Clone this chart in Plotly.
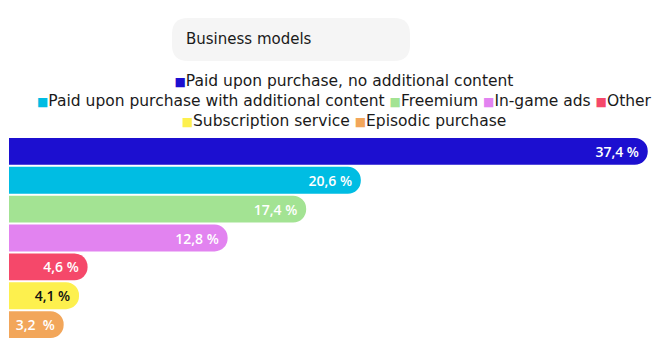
import plotly.graph_objects as go

categories = [
    "Paid upon purchase, no additional content",
    "Paid upon purchase with additional content",
    "Freemium",
    "In-game ads",
    "Other",
    "Subscription service",
    "Episodic purchase",
]
values = [37.4, 20.6, 17.4, 12.8, 4.6, 4.1, 3.2]
labels = ["37,4 %", "20,6 %", "17,4 %", "12,8 %", "4,6 %", "4,1 %", "3,2  %"]
colors = ["#1c0fd0", "#00bde3", "#a3e393", "#e283f0", "#f5486a", "#fdf04e", "#f2a65a"]
label_colors = ["#ffffff", "#ffffff", "#ffffff", "#ffffff", "#ffffff", "#111111", "#ffffff"]
legend_rows = [[0], [1, 2, 3, 4], [5, 6]]
title = "Business models"

W, H = 662, 354
L, R, T, B = 9, 4, 137, 15
PW, PH = W - L - R, H - T - B

def px(x):
    return (x - L) / PW

def py(y):
    return (H - B - y) / PH

FONT = "Open Sans"
LFONT = "DejaVu Sans"
NB = "\u00a0"

fig = go.Figure()
fig.add_trace(go.Bar(
    x=values,
    y=categories,
    orientation="h",
    marker=dict(color=colors, line=dict(width=0), cornerradius="50%"),
    text=[t.replace(" ", NB) for t in labels],
    textposition="inside",
    insidetextanchor="end",
    textfont=dict(family=FONT, size=14, color=label_colors, weight=600),
    hoverinfo="skip",
    showlegend=False,
))

# title box (rounded rectangle)
x0, x1, y0, y1, r = 172, 410, 18, 61, 16
path = (
    f"M {px(x0 + r)} {py(y0)} L {px(x1 - r)} {py(y0)} "
    f"Q {px(x1)} {py(y0)} {px(x1)} {py(y0 + r)} L {px(x1)} {py(y1 - r)} "
    f"Q {px(x1)} {py(y1)} {px(x1 - r)} {py(y1)} L {px(x0 + r)} {py(y1)} "
    f"Q {px(x0)} {py(y1)} {px(x0)} {py(y1 - r)} L {px(x0)} {py(y0 + r)} "
    f"Q {px(x0)} {py(y0)} {px(x0 + r)} {py(y0)} Z"
)
fig.add_shape(type="path", path=path, xref="paper", yref="paper",
              fillcolor="#f5f5f5", line=dict(width=0), layer="below")
fig.add_annotation(text=title, x=px(184), y=py(39), xref="paper", yref="paper",
                   xanchor="left", yanchor="middle", showarrow=False,
                   font=dict(family=LFONT, size=15, color="#1a1a1a"))

# legend, centred rows
rows = []
for row in legend_rows:
    parts = []
    for i in row:
        parts.append(f'<span style="color:{colors[i]};font-size:12px">■</span>{categories[i]}')
    rows.append(" ".join(parts))
fig.add_annotation(text="<br>".join(rows), x=px(344), y=py(101), xref="paper", yref="paper",
                   xanchor="center", yanchor="middle", align="center", showarrow=False,
                   font=dict(family=LFONT, size=15.5, color="#1a1a1a"))

fig.update_layout(
    width=W, height=H,
    margin=dict(l=L, r=R, t=T, b=B, pad=0),
    paper_bgcolor="white", plot_bgcolor="white",
    bargap=0.07,
    xaxis=dict(range=[0, 38], visible=False, fixedrange=True),
    yaxis=dict(autorange="reversed", visible=False, fixedrange=True),
    uniformtext=dict(mode=False),
)
fig.write_html("out.html", config={"displayModeBar": False})
